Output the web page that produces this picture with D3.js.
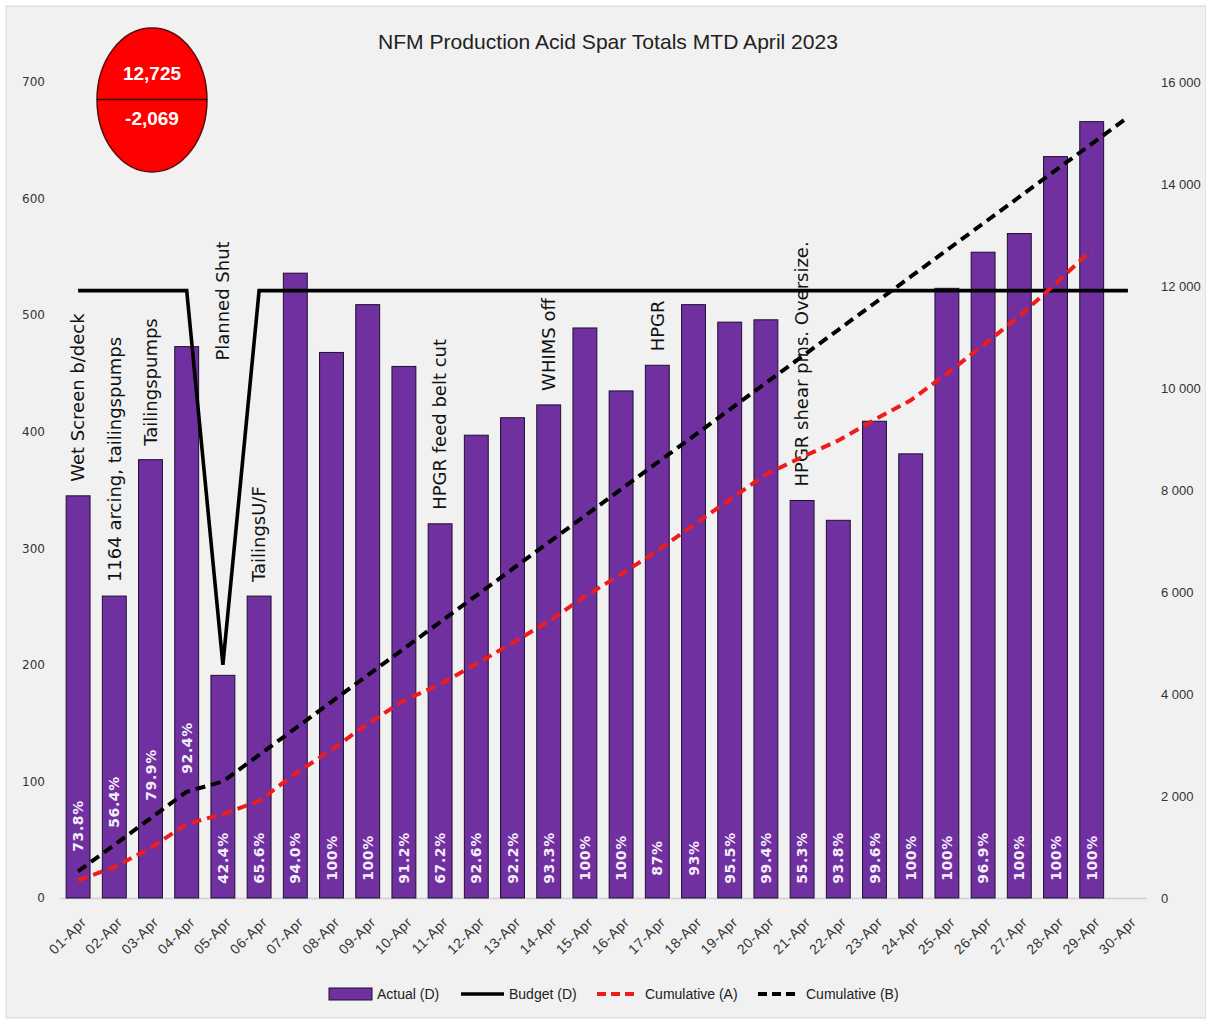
<!DOCTYPE html>
<html>
<head>
<meta charset="utf-8">
<script src="https://cdn.jsdelivr.net/npm/d3@7"></script>
<style>
  html, body { margin: 0; padding: 0; background: #fff; }
  svg { display: block; }
</style>
</head>
<body>
<svg id="chart" width="1206" height="1021"></svg>
<script>
/* ==========================================================
   NFM Production Acid Spar Totals — MTD April 2023
   ========================================================== */

// ---------- data ----------
const days = [
    "01-Apr", "02-Apr", "03-Apr", "04-Apr", "05-Apr", "06-Apr", "07-Apr", "08-Apr", "09-Apr", "10-Apr",
    "11-Apr", "12-Apr", "13-Apr", "14-Apr", "15-Apr", "16-Apr", "17-Apr", "18-Apr", "19-Apr", "20-Apr",
    "21-Apr", "22-Apr", "23-Apr", "24-Apr", "25-Apr", "26-Apr", "27-Apr", "28-Apr", "29-Apr", "30-Apr"
];

// daily tonnes, left axis (no figure yet for 30-Apr)
const actual = [
    345, 259, 376, 473, 191, 259, 536, 468, 509, 456,
    321, 397, 412, 423, 489, 435, 457, 509, 494, 496,
    341, 324, 409, 381, 523, 554, 570, 636, 666
];

// bar labels (plant availability)
const pctLabels = [
    "73.8%", "56.4%", "79.9%", "92.4%", "42.4%", "65.6%", "94.0%", "100%", "100%", "91.2%",
    "67.2%", "92.6%", "92.2%", "93.3%", "100%", "100%", "87%", "93%", "95.5%", "99.4%",
    "55.3%", "93.8%", "99.6%", "100%", "100%", "96.9%", "100%", "100%", "100%"
];

// daily budget, left axis
const budget = [
    521, 521, 521, 521, 200, 521, 521, 521, 521, 521,
    521, 521, 521, 521, 521, 521, 521, 521, 521, 521,
    521, 521, 521, 521, 521, 521, 521, 521, 521, 521
];

// running totals, right axis
const cumActual = [
    345, 604, 980, 1453, 1644, 1903, 2439, 2907, 3416, 3872,
    4193, 4590, 5002, 5425, 5914, 6349, 6806, 7315, 7809, 8305,
    8646, 8970, 9379, 9760, 10283, 10837, 11407, 12043, 12709
];
const cumBudget = [
    521, 1042, 1563, 2084, 2284, 2805, 3326, 3847, 4368, 4889,
    5410, 5931, 6452, 6973, 7494, 8015, 8536, 9057, 9578, 10099,
    10620, 11141, 11662, 12183, 12704, 13225, 13746, 14267, 14788, 15309
];

const leftTicks = [0, 100, 200, 300, 400, 500, 600, 700];
const rightTicks = [0, 2000, 4000, 6000, 8000, 10000, 12000, 14000, 16000];

// comments written over the bars
const notes = [
    ["01-Apr", "Wet Screen b/deck"],
    ["02-Apr", "1164 arcing, tailingspumps"],
    ["03-Apr", "Tailingspumps"],
    ["05-Apr", "Planned Shut"],
    ["06-Apr", "TailingsU/F"],
    ["11-Apr", "HPGR feed belt cut"],
    ["14-Apr", "WHIMS off"],
    ["17-Apr", "HPGR"],
    ["21-Apr", "HPGR shear pins. Oversize."]
];

const seriesNames = ["Actual (D)", "Budget (D)", "Cumulative (A)", "Cumulative (B)"];
const title = "NFM Production Acid Spar Totals MTD April 2023";
const bubbleTotal = "12,725";
const bubbleVariance = "-2,069";

// ---------- drawing ----------
const PURPLE = "#7030a0";
const RED = "#ee1c1c";
const NARROW = "'Liberation Sans Narrow', 'Liberation Sans', Arial, sans-serif";
const SANS = "'Liberation Sans', Arial, sans-serif";
const WIDE = "'DejaVu Sans', Verdana, sans-serif";

const svg = d3.select("#chart");

// chart area background
svg.append("rect")
    .attr("x", 6).attr("y", 6)
    .attr("width", 1200).attr("height", 1012)
    .attr("fill", "#f1f1f1")
    .attr("stroke", "#d6d6d6");

const x = d3.scaleBand()
    .domain(days)
    .range([60, 1146])
    .paddingInner(0.34)
    .paddingOuter(0.17);
const yL = d3.scaleLinear().domain([0, 700]).range([898, 82]);
const yR = d3.scaleLinear().domain([0, 16000]).range([898, 82]);
const cx = d => x(d) + x.bandwidth() / 2;

// title
svg.append("text")
    .attr("x", 608).attr("y", 49)
    .attr("text-anchor", "middle")
    .attr("font-family", NARROW)
    .attr("font-size", 21)
    .attr("fill", "#222")
    .attr("textLength", 460)
    .attr("lengthAdjust", "spacingAndGlyphs")
    .text(title);

// left axis
const gL = svg.append("g")
    .attr("transform", "translate(60,0)")
    .call(d3.axisLeft(yL).tickValues(leftTicks).tickSize(0).tickPadding(15));
gL.select(".domain").remove();
gL.selectAll("text")
    .attr("font-family", WIDE)
    .attr("font-size", 12)
    .attr("fill", "#333");

// right axis
const fmtSpace = d => d3.format(",")(d).replace(/,/g, " ");
const gR = svg.append("g")
    .attr("transform", "translate(1146,0)")
    .call(d3.axisRight(yR).tickValues(rightTicks).tickSize(0).tickPadding(15).tickFormat(fmtSpace));
gR.select(".domain").remove();
gR.selectAll("text")
    .attr("font-family", SANS)
    .attr("font-size", 13)
    .attr("fill", "#333");

// category axis
const gX = svg.append("g")
    .attr("transform", "translate(0,898)")
    .call(d3.axisBottom(x).tickSize(0));
gX.select(".domain").attr("stroke", "#d0d0d0").attr("stroke-width", 1.5);
gX.selectAll("text")
    .attr("x", 0).attr("y", 0).attr("dy", null)
    .attr("transform", "translate(9,25) rotate(-45)")
    .attr("text-anchor", "end")
    .attr("font-family", SANS)
    .attr("font-size", 14)
    .attr("letter-spacing", 0.6)
    .attr("fill", "#333");

// bars
svg.append("g")
    .selectAll("rect")
    .data(actual)
    .join("rect")
    .attr("x", (d, i) => x(days[i]))
    .attr("y", d => yL(d))
    .attr("width", x.bandwidth())
    .attr("height", d => yL(0) - yL(d))
    .attr("fill", PURPLE)
    .attr("stroke", "#1b1030")
    .attr("stroke-width", 1);

// notes above the bars (Planned Shut sits higher, above the dip)
const noteAnchor = { "05-Apr": 461 };
svg.append("g")
    .selectAll("text")
    .data(notes)
    .join("text")
    .attr("transform", d => {
        const i = days.indexOf(d[0]);
        const y0 = noteAnchor[d[0]] !== undefined ? yL(noteAnchor[d[0]]) : yL(actual[i]) - 14;
        return `translate(${cx(d[0])},${y0}) rotate(-90)`;
    })
    .attr("dy", "0.35em")
    .attr("text-anchor", "start")
    .attr("font-family", WIDE)
    .attr("font-size", 18)
    .attr("fill", "#111")
    .text(d => d[1]);

// lines
const lineL = d3.line().x((d, i) => cx(days[i])).y(d => yL(d));
const lineR = d3.line().x((d, i) => cx(days[i])).y(d => yR(d));

svg.append("path")
    .datum(budget)
    .attr("d", lineL)
    .attr("fill", "none")
    .attr("stroke", "#000")
    .attr("stroke-width", 3.6);

svg.append("path")
    .datum(cumActual)
    .attr("d", lineR)
    .attr("fill", "none")
    .attr("stroke", RED)
    .attr("stroke-width", 4)
    .attr("stroke-dasharray", "10 6");

svg.append("path")
    .datum(cumBudget)
    .attr("d", lineR)
    .attr("fill", "none")
    .attr("stroke", "#000")
    .attr("stroke-width", 4)
    .attr("stroke-dasharray", "10 6");

// % labels inside the bars (first few lifted clear of the lines)
const pctLift = [32, 56, 83, 110];
svg.append("g")
    .selectAll("text")
    .data(pctLabels)
    .join("text")
    .attr("transform", (d, i) => `translate(${cx(days[i])},${858 - (pctLift[i] || 0)}) rotate(-90)`)
    .attr("dy", "0.36em")
    .attr("text-anchor", "middle")
    .attr("font-family", WIDE)
    .attr("font-weight", "bold")
    .attr("font-size", 14)
    .attr("letter-spacing", 0.6)
    .attr("fill", "#f4eefa")
    .text(d => d);

// bubble: month total / variance
const bubble = svg.append("g");
bubble.append("ellipse")
    .attr("cx", 152).attr("cy", 100)
    .attr("rx", 55).attr("ry", 72)
    .attr("fill", "#ff0000")
    .attr("stroke", "#5a0a0a")
    .attr("stroke-width", 1.5);
bubble.append("line")
    .attr("x1", 97).attr("x2", 207)
    .attr("y1", 99.5).attr("y2", 99.5)
    .attr("stroke", "#3a0000")
    .attr("stroke-width", 1.5);
bubble.selectAll("text")
    .data([[bubbleTotal, 73], [bubbleVariance, 118]])
    .join("text")
    .attr("x", 152).attr("y", d => d[1])
    .attr("dy", "0.35em")
    .attr("text-anchor", "middle")
    .attr("font-family", NARROW)
    .attr("font-weight", "bold")
    .attr("font-size", 19)
    .attr("fill", "#fff")
    .text(d => d[0]);

// legend
const legend = svg.append("g").attr("font-family", NARROW).attr("font-size", 14).attr("fill", "#222");
const legendX = [329, 461, 597, 758];
legend.append("rect")
    .attr("x", legendX[0]).attr("y", 988)
    .attr("width", 43).attr("height", 12)
    .attr("fill", PURPLE)
    .attr("stroke", "#1b1030");
legend.append("line")
    .attr("x1", legendX[1]).attr("x2", legendX[1] + 43)
    .attr("y1", 994).attr("y2", 994)
    .attr("stroke", "#000").attr("stroke-width", 3.6);
legend.append("line")
    .attr("x1", legendX[2]).attr("x2", legendX[2] + 41)
    .attr("y1", 994).attr("y2", 994)
    .attr("stroke", RED).attr("stroke-width", 4).attr("stroke-dasharray", "9 5");
legend.append("line")
    .attr("x1", legendX[3]).attr("x2", legendX[3] + 42)
    .attr("y1", 994).attr("y2", 994)
    .attr("stroke", "#000").attr("stroke-width", 4).attr("stroke-dasharray", "9 5");
legend.selectAll("text")
    .data(seriesNames)
    .join("text")
    .attr("x", (d, i) => legendX[i] + 48)
    .attr("y", 994)
    .attr("dy", "0.35em")
    .text(d => d);
</script>
</body>
</html>
